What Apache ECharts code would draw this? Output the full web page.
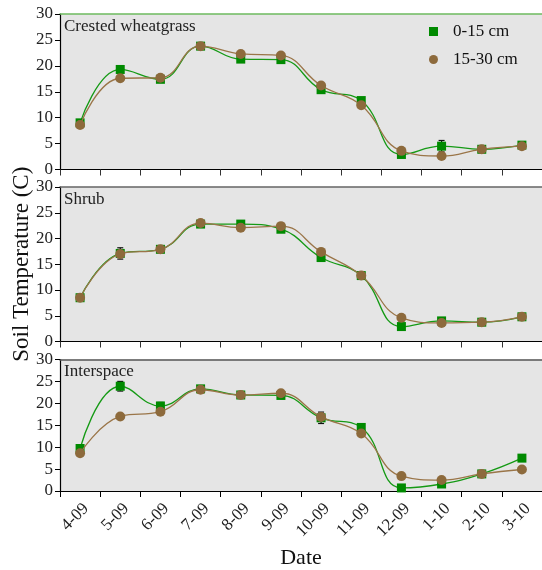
<!DOCTYPE html>
<html><head><meta charset="utf-8">
<script src="https://cdn.jsdelivr.net/npm/echarts@6/dist/echarts.min.js"></script>
<style>html,body{margin:0;padding:0;background:#fff}#c{width:542px;height:570px}</style>
</head><body><div id="c"></div>
<script>
var dates = ['4-09','5-09','6-09','7-09','8-09','9-09','10-09','11-09','12-09','1-10','2-10','3-10'];
var yTicks = [0,5,10,15,20,25,30];
var panelNames = ['Crested wheatgrass','Shrub','Interspace'];
var seriesNames = ['0-15 cm','15-30 cm'];

var crestedShallow = [9.0,19.3,17.4,23.8,21.3,21.2,15.4,13.3,2.9,4.5,3.9,4.7];
var crestedDeep    = [8.6,17.6,17.7,23.8,22.3,22.0,16.2,12.4,3.6,2.6,3.9,4.5];
var shrubShallow   = [8.5,17.1,17.9,22.8,22.8,21.8,16.3,12.8,2.9,4.0,3.75,4.8];
var shrubDeep      = [8.5,17.0,17.9,23.0,22.1,22.4,17.4,12.8,4.6,3.6,3.75,4.8];
var interShallow   = [9.7,23.9,19.4,23.3,21.9,21.8,16.7,14.5,0.7,1.6,3.9,7.5];
var interDeep      = [8.6,17.0,18.1,23.1,21.9,22.3,16.9,13.1,3.4,2.5,3.9,4.9];

var crestedShallowErr = [0.3,0.7,0.3,0.3,0.3,0.3,0.3,0.3,0.3,1.1,0.3,0.3];
var crestedDeepErr    = [0.2,0.3,0.3,0.3,0.2,0.2,0.3,0.3,0.3,0.2,0.2,0.2];
var shrubShallowErr   = [0.3,1.1,0.3,0.3,0.3,0.3,0.4,0.3,0.3,0.3,0.3,0.3];
var shrubDeepErr      = [0.2,0.5,0.3,0.2,0.2,0.2,0.3,0.3,0.5,0.3,0.2,0.2];
var interShallowErr   = [0.4,1.1,0.8,0.4,0.3,0.3,1.3,0.4,0.3,0.5,0.3,0.3];
var interDeepErr      = [0.3,0.4,0.3,0.2,0.2,0.2,0.5,0.3,0.3,0.3,0.2,0.2];

var GREEN = '#008a00', GREEN_LINE = '#159a15', BROWN = '#8d6a3c', BROWN_LINE = '#9a7548';
var FONT = 'Liberation Serif';

var panels = [
  {name: panelNames[0], s: crestedShallow, d: crestedDeep, se: crestedShallowErr, de: crestedDeepErr, top: 14, h: 155.5, topColor: '#6dbb5f'},
  {name: panelNames[1], s: shrubShallow, d: shrubDeep, se: shrubShallowErr, de: shrubDeepErr, top: 187, h: 154.5, topColor: '#666'},
  {name: panelNames[2], s: interShallow, d: interDeep, se: interShallowErr, de: interDeepErr, top: 359.5, h: 139.5, topColor: '#555'}
];

var grids = [], xAxes = [], yAxes = [], series = [], titles = [];
panels.forEach(function(p, i){
  grids.push({left: 60, width: 484, top: p.top, height: p.h, show: true, backgroundColor: '#e5e5e5', borderWidth: 0, containLabel: false});
  xAxes.push({
    type: 'category', data: dates, gridIndex: i, boundaryGap: true,
    axisLine: {lineStyle: {color: '#000', width: 1.2}},
    axisTick: {show: true, length: 6, inside: false, lineStyle: {color: i === 2 ? '#000' : '#333'}},
    axisLabel: {show: i === 2, rotate: 45, fontFamily: FONT, fontSize: 17, color: '#222', margin: 9, verticalAlign: 'top', align: 'right'},
    name: i === 2 ? 'Date' : '', nameLocation: 'middle', nameGap: 56, nameMoveOverlap: false,
    nameTextStyle: {fontFamily: FONT, fontSize: 22, color: '#111'}
  });
  xAxes.push({
    type: 'category', data: dates, gridIndex: i, position: 'top',
    axisLine: {lineStyle: {color: p.topColor, width: 1.5}},
    axisTick: {show: false}, axisLabel: {show: false}
  });
  yAxes.push({
    type: 'value', gridIndex: i, min: yTicks[0], max: yTicks[yTicks.length-1], interval: yTicks[1]-yTicks[0],
    axisLine: {show: true, lineStyle: {color: '#000', width: 1.2}},
    axisTick: {show: true, length: 5, lineStyle: {color: '#000'}},
    splitLine: {show: false},
    axisLabel: {fontFamily: FONT, fontSize: 17, color: '#222', margin: 7},
    name: i === 1 ? 'Soil Temperature (C)' : '', nameLocation: 'middle', nameGap: 27, nameMoveOverlap: false,
    nameTextStyle: {fontFamily: FONT, fontSize: 23, color: '#111'}
  });
  titles.push({text: p.name, left: 59, top: p.top - 1, textStyle: {fontFamily: FONT, fontSize: 17, fontWeight: 'normal', color: '#222'}});

  function errSeries(vals, errs, color){
    return {
      type: 'custom', xAxisIndex: i*2, yAxisIndex: i, z: 2, silent: true,
      data: vals.map(function(v, k){ return [k, v - errs[k], v + errs[k]]; }),
      renderItem: function(params, api){
        var lo = api.coord([api.value(0), api.value(1)]);
        var hi = api.coord([api.value(0), api.value(2)]);
        var w = 3;
        return {type: 'group', children: [
          {type: 'line', shape: {x1: lo[0], y1: lo[1], x2: hi[0], y2: hi[1]}, style: {stroke: color, lineWidth: 1.2}},
          {type: 'line', shape: {x1: lo[0]-w, y1: lo[1], x2: lo[0]+w, y2: lo[1]}, style: {stroke: color, lineWidth: 1.2}},
          {type: 'line', shape: {x1: hi[0]-w, y1: hi[1], x2: hi[0]+w, y2: hi[1]}, style: {stroke: color, lineWidth: 1.2}}
        ]};
      }
    };
  }
  series.push(errSeries(p.s, p.se, '#111'));
  series.push(errSeries(p.d, p.de, '#222'));
  series.push({
    name: seriesNames[0], type: 'line', xAxisIndex: i*2, yAxisIndex: i, data: p.s, smooth: 0.45,
    symbol: 'rect', symbolSize: 9, z: 4,
    itemStyle: {color: GREEN}, lineStyle: {color: GREEN_LINE, width: 1.3}
  });
  series.push({
    name: seriesNames[1], type: 'line', xAxisIndex: i*2, yAxisIndex: i, data: p.d, smooth: 0.45,
    symbol: 'circle', symbolSize: 10, z: 5,
    itemStyle: {color: BROWN}, lineStyle: {color: BROWN_LINE, width: 1.3}
  });
});

var chart = echarts.init(document.getElementById('c'), null, {renderer: 'canvas'});
chart.setOption({
  animation: false,
  backgroundColor: '#fff',
  title: titles,
  grid: grids, xAxis: xAxes, yAxis: yAxes, series: series,
  legend: {
    data: [{name: seriesNames[0], icon: 'rect'}, {name: seriesNames[1], icon: 'circle'}],
    orient: 'vertical', left: 424, top: 18, itemWidth: 9, itemHeight: 9, itemGap: 11,
    textStyle: {fontFamily: FONT, fontSize: 17, color: '#111', padding: [0,0,0,10]}
  }
});
</script>
</body></html>
